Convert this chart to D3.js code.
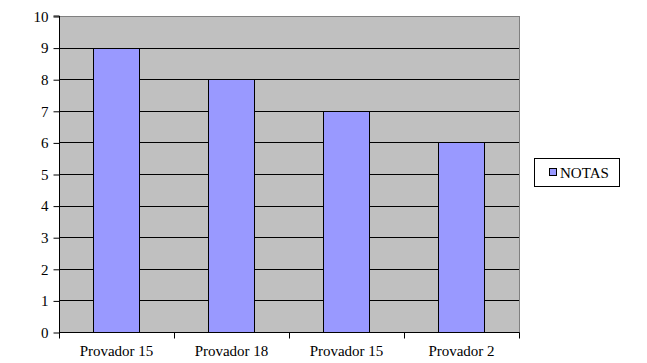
<!DOCTYPE html>
<html><head><meta charset="utf-8">
<script src="https://cdn.jsdelivr.net/npm/d3@7/dist/d3.min.js"></script>
<style>body{margin:0;background:#fff}svg{display:block}</style>
</head><body>
<svg id="c" width="647" height="363"></svg>
<script>
const categories = ["Provador 15", "Provador 18", "Provador 15 ", "Provador 2"];
const labels = ["Provador 15", "Provador 18", "Provador 15", "Provador 2"];
const notas = [9, 8, 7, 6];
const yTicks = [0,1,2,3,4,5,6,7,8,9,10];
const seriesName = "NOTAS";

const FONT = "Liberation Serif, DejaVu Serif, Times New Roman, serif";
const svg = d3.select("#c");
const m = {l:59, r:519, t:16, b:332};
const x = d3.scaleBand().domain(categories).range([m.l, m.r]).paddingInner(0).paddingOuter(0);
const y = d3.scaleLinear().domain([0,10]).range([m.b, m.t]);

svg.append("rect").attr("x", m.l).attr("y", m.t).attr("width", m.r-m.l).attr("height", m.b-m.t)
  .attr("fill", "#C0C0C0").attr("stroke", "#808080").attr("stroke-width", 1)
  .attr("shape-rendering","crispEdges");

// gridlines
svg.append("g").selectAll("line").data(yTicks.filter(d=>d>0 && d<10)).join("line")
  .attr("x1", m.l).attr("x2", m.r).attr("y1", d=>Math.round(y(d))+0.5).attr("y2", d=>Math.round(y(d))+0.5)
  .attr("stroke", "#000").attr("stroke-width", 1);

// bars
const bw = x.bandwidth()*0.4;
svg.append("g").selectAll("rect").data(notas).join("rect")
  .attr("x", (d,i)=>Math.floor(x(categories[i]) + x.bandwidth()/2 - bw/2)+0.5)
  .attr("y", d=>Math.round(y(d))+0.5)
  .attr("width", Math.round(bw))
  .attr("height", d=>Math.round(y(0))-Math.round(y(d)))
  .attr("fill", "#9999FF").attr("stroke", "#000").attr("stroke-width", 1);

// y axis
const ya = d3.axisLeft(y).tickValues(yTicks).tickSize(6).tickPadding(5).tickFormat(d3.format("d"));
const gy = svg.append("g").attr("transform", `translate(${m.l+0.5},0.5)`).call(ya);
gy.attr("font-family", FONT).attr("font-size", 15);
gy.select(".domain").attr("stroke", "#000").attr("d", `M-6,${m.t-0.5}H0V${m.b}`);
gy.selectAll(".tick line").attr("stroke", "#000");
gy.selectAll("text").style("font-family", FONT).style("font-size", "15px").attr("fill", "#000");

// x axis
const gx = svg.append("g").attr("transform", `translate(0,${m.b+0.5})`);
gx.append("line").attr("x1", m.l).attr("x2", m.r+0.5).attr("y1", 0).attr("y2", 0).attr("stroke", "#000");
const bounds = categories.map(c=>x(c)).concat([m.r]);
gx.selectAll("line.t").data(bounds).join("line").attr("class","t")
  .attr("x1", d=>Math.round(d)+0.5).attr("x2", d=>Math.round(d)+0.5).attr("y1", 0).attr("y2", 6).attr("stroke", "#000");
gx.selectAll("text").data(categories).join("text")
  .attr("x", d=>x(d)+x.bandwidth()/2).attr("y", 23)
  .attr("text-anchor", "middle").style("font-family", FONT).style("font-size", "15px").attr("fill", "#000")
  .text((d,i)=>labels[i]);

// legend
const lg = svg.append("g");
lg.append("rect").attr("x", 534.5).attr("y", 158.5).attr("width", 85).attr("height", 28)
  .attr("fill", "#fff").attr("stroke", "#000");
lg.append("rect").attr("x", 549.5).attr("y", 168.5).attr("width", 7).attr("height", 7)
  .attr("fill", "#9999FF").attr("stroke", "#000");
lg.append("text").attr("x", 560).attr("y", 178).style("font-family", FONT).style("font-size", "15px")
  .attr("fill", "#000").text(seriesName);
</script>
</body></html>
